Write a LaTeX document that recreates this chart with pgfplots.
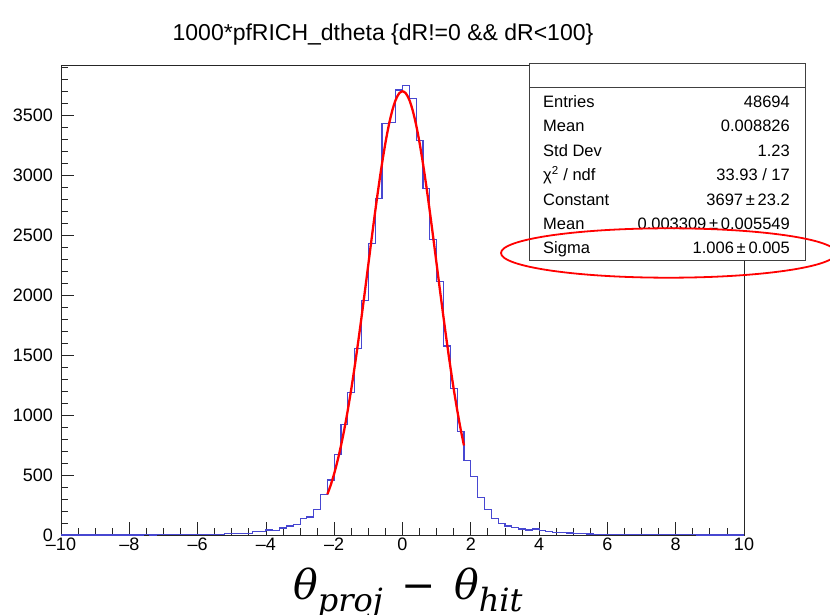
\documentclass[border=0pt]{standalone}
\usepackage{fontspec}
\setmainfont{Liberation Sans}
\newfontfamily\labfont{DejaVu Serif}
\usepackage{pgfplots}
\pgfplotsset{compat=1.18}
\definecolor{histblue}{rgb}{0.28,0.28,0.82}
\begin{document}
\begin{tikzpicture}
\path[use as bounding box] (0pt,0pt) rectangle (830pt,614pt);
\begin{axis}[
  at={(61pt,79pt)}, anchor=south west,
  scale only axis, width=683pt, height=470pt,
  xmin=-10, xmax=10, ymin=0, ymax=3916,
  axis line style={black!85, line width=0.9pt},
  tick pos=left,
  tick align=inside,
  major tick length=13pt, minor tick length=7pt,
  every tick/.style={black!85, line width=0.8pt},
  xtick={-10,-8,-6,-4,-2,0,2,4,6,8,10},
  xticklabels={–10,–8,–6,–4,–2,0,2,4,6,8,10},
  minor xtick={-9.5,-9,...,9.5},
  ytick={0,500,1000,1500,2000,2500,3000,3500},
  yticklabels={0,500,1000,1500,2000,2500,3000,3500},
  minor ytick={100,200,...,3900},
  ticklabel style={font=\fontsize{18}{18}\selectfont},
  xticklabel style={inner sep=0pt, yshift=-3pt},
  yticklabel style={inner sep=0pt, xshift=-8pt},
  clip=true,
]
\addplot[const plot mark left, histblue, line width=1.1pt] coordinates {
(-10.0,0) (-9.8,0) (-9.6,0) (-9.4,0) (-9.2,0) (-9.0,0) (-8.8,0) (-8.6,0) (-8.4,0) (-8.2,0)
(-8.0,0) (-7.8,0) (-7.6,1) (-7.4,0) (-7.2,1) (-7.0,1) (-6.8,1) (-6.6,3) (-6.4,2) (-6.2,3)
(-6.0,4) (-5.8,5) (-5.6,4) (-5.4,7) (-5.2,9) (-5.0,16) (-4.8,12) (-4.6,15) (-4.4,30) (-4.2,26)
(-4.0,42) (-3.8,38) (-3.6,58) (-3.4,75) (-3.2,89) (-3.0,136) (-2.8,150) (-2.6,214) (-2.4,336) (-2.2,458)
(-2.0,672) (-1.8,922) (-1.6,1186) (-1.4,1556) (-1.2,1953) (-1.0,2431) (-0.8,2806) (-0.6,3430) (-0.4,3440) (-0.2,3708)
(0.0,3742) (0.2,3639) (0.4,3286) (0.6,2889) (0.8,2464) (1.0,2111) (1.2,1575) (1.4,1222) (1.6,861) (1.8,617)
(2.0,486) (2.2,311) (2.4,214) (2.6,140) (2.8,97) (3.0,75) (3.2,64) (3.4,50) (3.6,42) (3.8,50)
(4.0,36) (4.2,30) (4.4,24) (4.6,21) (4.8,17) (5.0,12) (5.2,10) (5.4,8) (5.6,5) (5.8,4)
(6.0,4) (6.2,3) (6.4,2) (6.6,3) (6.8,4) (7.0,5) (7.2,3) (7.4,2) (7.6,2) (7.8,4)
(8.0,3) (8.2,1) (8.4,1) (8.6,0) (8.8,0) (9.0,0) (9.2,0) (9.4,0) (9.6,0) (9.8,0)
(10.0,0)
};
\addplot[red, line width=2.3pt, smooth] coordinates {
(-2.2,339) (-2.1,418) (-2.0,512) (-1.9,621) (-1.8,746) (-1.7,886) (-1.6,1044) (-1.5,1216)
(-1.4,1404) (-1.3,1604) (-1.2,1815) (-1.1,2033) (-1.0,2256) (-0.9,2478) (-0.8,2695) (-0.7,2902)
(-0.6,3094) (-0.5,3267) (-0.4,3416) (-0.3,3536) (-0.2,3625) (-0.1,3679) (0.0,3697) (0.1,3679)
(0.2,3625) (0.3,3536) (0.4,3416) (0.5,3267) (0.6,3094) (0.7,2902) (0.8,2695) (0.9,2478)
(1.0,2256) (1.1,2033) (1.2,1815) (1.3,1604) (1.4,1404) (1.5,1216) (1.6,1044) (1.7,886) (1.8,746)
};
\end{axis}
% title
\node[anchor=base, inner sep=0pt] at (383pt,573pt) {\fontsize{23}{23}\selectfont 1000*pfRICH\_dtheta \{dR!=0 \&\& dR<100\}};
% x label
\node[anchor=base west, inner sep=0pt] at (293pt,15pt) {\labfont\fontsize{41}{41}\selectfont\itshape θ\raisebox{-0.3em}{\fontsize{32}{32}\selectfont proj}\hspace{0.45em}\upshape −\hspace{0.45em}\itshape θ\raisebox{-0.3em}{\fontsize{32}{32}\selectfont hit}};
% stats box
\draw[black!75, line width=1pt, fill=white] (529pt,353pt) rectangle (805pt,550pt);
\draw[black!75, line width=1pt] (529pt,526.3pt) -- (805pt,526.3pt);
\begin{scope}[every node/.style={inner sep=0pt, font=\fontsize{16.5}{16.5}\selectfont}]
\node[anchor=base west] at (543pt,506.7pt) {Entries};
\node[anchor=base east] at (790pt,506.7pt) {48694};
\node[anchor=base west] at (543pt,482.25pt) {Mean};
\node[anchor=base east] at (790pt,482.25pt) {0.008826};
\node[anchor=base west] at (543pt,457.8pt) {Std Dev};
\node[anchor=base east] at (790pt,457.8pt) {1.23};
\node[anchor=base west] at (543pt,433.35pt) {χ\textsuperscript{2} / ndf};
\node[anchor=base east] at (790pt,433.35pt) {33.93 / 17};
\node[anchor=base west] at (543pt,408.9pt) {Constant};
\node[anchor=base east] at (790pt,408.9pt) {3697\,±\,23.2};
\node[anchor=base west] at (543pt,384.45pt) {Mean};
\node[anchor=base east] at (790pt,384.45pt) {0.003309\,±\,0.005549};
\node[anchor=base west] at (543pt,360pt) {Sigma};
\node[anchor=base east] at (790pt,360pt) {1.006\,±\,0.005};
\end{scope}
% red ellipse annotation
\begin{scope}
\clip (0pt,0pt) rectangle (830pt,614pt);
\draw[red, line width=1.8pt] (668.6pt,361pt) ellipse [x radius=167.6pt, y radius=24.7pt];
\end{scope}
\end{tikzpicture}
\end{document}
